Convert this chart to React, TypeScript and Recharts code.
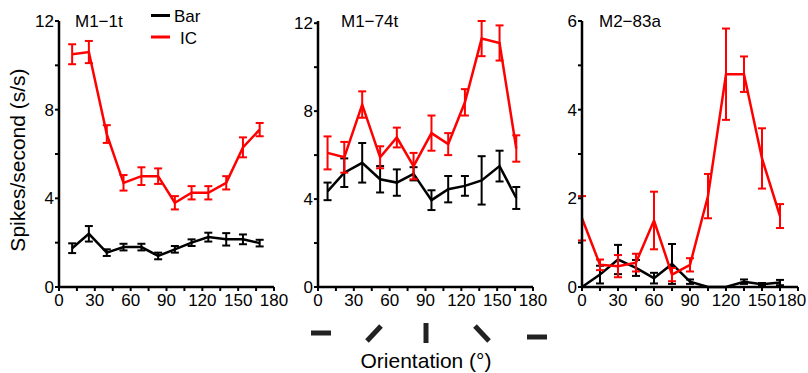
import { LineChart, Line, XAxis, YAxis, ErrorBar } from "recharts"

// orientation (deg) for each panel
const anglesA = [11, 25, 40, 54, 69, 83, 97, 111, 125, 140, 154, 168]
const anglesB = [8, 22, 37, 52, 66, 80, 95, 109, 123, 137, 152, 166]
const anglesC = [0, 15, 30, 45, 60, 75, 90, 105, 120, 135, 150, 165]

// M1-1t
const icA = [10.5, 10.6, 6.9, 4.7, 5.0, 5.0, 3.8, 4.25, 4.25, 4.7, 6.3, 7.1]
const icErrA = [0.45, 0.5, 0.4, 0.35, 0.4, 0.35, 0.3, 0.3, 0.3, 0.3, 0.45, 0.3]
const barA = [1.75, 2.4, 1.55, 1.8, 1.8, 1.4, 1.7, 2.0, 2.25, 2.15, 2.15, 1.98]
const barErrA = [0.22, 0.35, 0.15, 0.15, 0.15, 0.15, 0.15, 0.15, 0.2, 0.28, 0.22, 0.15]

// M1-74t
const icB = [6.1, 5.9, 8.3, 5.9, 6.8, 5.5, 7.0, 6.5, 8.4, 11.3, 11.1, 6.3]
const icErrB = [0.75, 0.7, 0.6, 0.5, 0.45, 0.6, 0.8, 0.5, 0.6, 0.8, 0.8, 0.6]
const barB = [4.35, 5.2, 5.65, 4.9, 4.75, 5.15, 3.95, 4.45, 4.6, 4.85, 5.5, 4.05]
const barErrB = [0.4, 0.65, 0.9, 0.6, 0.6, 0.3, 0.45, 0.6, 0.45, 1.1, 0.7, 0.5]

// M2-83a
const icC = [1.55, 0.5, 0.47, 0.55, 1.5, 0.28, 0.5, 2.05, 4.8, 4.8, 2.9, 1.6]
const icErrC = [0.5, 0.12, 0.25, 0.2, 0.65, 0.15, 0.15, 0.5, 1.03, 0.4, 0.68, 0.27]
const barC = [0, 0.28, 0.62, 0.43, 0.2, 0.52, 0.12, 0, 0, 0.12, 0.06, 0.1]
const barErrC = [null, 0.2, 0.33, 0.18, 0.12, 0.45, 0.05, null, null, 0.05, 0.03, 0.06]

const xTicks = [0, 15, 30, 45, 60, 75, 90, 105, 120, 135, 150, 165, 180]
const yTicks12 = [0, 2, 4, 6, 8, 10, 12]
const yTicks6 = [0, 1, 2, 3, 4, 5, 6]

const FONT = "'Liberation Sans', Arial, sans-serif"
const RED = "#ff0000"

function build(x: number[], ic: number[], icErr: (number | null)[], bar: number[], barErr: (number | null)[]) {
  return x.map((v, i) => ({ x: v, ic: ic[i], icErr: icErr[i], bar: bar[i], barErr: barErr[i] }))
}

// x tick: label every 30 deg, last label nudged in when it sits at the page edge
const makeXTick = (lastShift: number) => (props: any) => {
  const { x, y, payload } = props
  const v = payload.value
  const label = v % 30 === 0 ? String(v) : ""
  const dx = v === 180 ? lastShift : 0
  return (
    <text x={x + dx} y={y} dy="0.71em" textAnchor="middle" fill="#000" fontSize={17} fontFamily={FONT}>
      {label}
    </text>
  )
}

interface PanelProps {
  data: ReturnType<typeof build>
  left: number
  width: number
  marginLeft: number
  marginRight: number
  yMax: number
  yTicks: number[]
  labelEvery: number
  lastShift?: number
}

function Panel({ data, left, width, marginLeft, marginRight, yMax, yTicks, labelEvery, lastShift = 0 }: PanelProps) {
  const tick = { fill: "#000", fontSize: 17, fontFamily: FONT }
  return (
    <div style={{ position: "absolute", left, top: 0 }}>
      <LineChart
        width={width}
        height={320}
        data={data}
        margin={{ top: 21, right: marginRight, bottom: 3, left: marginLeft }}
      >
        <XAxis
          type="number"
          dataKey="x"
          domain={[0, 180]}
          ticks={xTicks}
          interval={0}
          height={30}
          tick={makeXTick(lastShift)}
          tickSize={4}
          tickMargin={3}
          axisLine={{ stroke: "#000", strokeWidth: 2.5 }}
          tickLine={{ stroke: "#000", strokeWidth: 2 }}
        />
        <YAxis
          type="number"
          domain={[0, yMax]}
          ticks={yTicks}
          interval={0}
          width={30}
          tick={tick}
          tickSize={4}
          tickMargin={1}
          tickFormatter={(v) => (v % labelEvery === 0 ? String(v) : "")}
          axisLine={{ stroke: "#000", strokeWidth: 2.5 }}
          tickLine={{ stroke: "#000", strokeWidth: 2 }}
        />
        <Line
          type="linear"
          dataKey="bar"
          stroke="#000"
          strokeWidth={2.5}
          dot={false}
          isAnimationActive={false}
        >
          <ErrorBar dataKey="barErr" width={4} stroke="#000" strokeWidth={2} direction="y" />
        </Line>
        <Line
          type="linear"
          dataKey="ic"
          stroke={RED}
          strokeWidth={2.5}
          dot={false}
          isAnimationActive={false}
        >
          <ErrorBar dataKey="icErr" width={4} stroke={RED} strokeWidth={2} direction="y" />
        </Line>
      </LineChart>
    </div>
  )
}

export default function App() {
  const dataA = build(anglesA, icA, icErrA, barA, barErrA)
  const dataB = build(anglesB, icB, icErrB, barB, barErrB)
  const dataC = build(anglesC, icC, icErrC, barC, barErrC)
  return (
    <div style={{ position: "absolute", left: 0, top: 0, width: 808, height: 373, background: "#fff", overflow: "hidden" }}>
      <Panel data={dataA} left={0} width={290} marginLeft={29} marginRight={16} yMax={12} yTicks={yTicks12} labelEvery={4} />
      <Panel data={dataB} left={260} width={290} marginLeft={28} marginRight={17} yMax={12} yTicks={yTicks12} labelEvery={4} />
      <Panel data={dataC} left={530} width={278} marginLeft={22} marginRight={10} yMax={6} yTicks={yTicks6} labelEvery={2} lastShift={-6} />
      <svg width={808} height={373} style={{ position: "absolute", left: 0, top: 0, pointerEvents: "none" }}>
        <g fontFamily={FONT} fill="#000">
          <text x={75} y={27} fontSize={17}>M1−1t</text>
          <text x={341} y={27} fontSize={17}>M1−74t</text>
          <text x={599} y={27} fontSize={17}>M2−83a</text>
          <line x1={151} y1={15.5} x2={170} y2={15.5} stroke="#000" strokeWidth={3} />
          <text x={174} y={22} fontSize={17}>Bar</text>
          <line x1={151} y1={37} x2={170} y2={37} stroke={RED} strokeWidth={3} />
          <text x={180} y={44} fontSize={17}>IC</text>
          <text transform="translate(25,160) rotate(-90)" textAnchor="middle" fontSize={21}>
            Spikes/second (s/s)
          </text>
          <text x={426} y={368} textAnchor="middle" fontSize={21}>Orientation (°)</text>
        </g>
        <g stroke="#222" strokeWidth={5}>
          <line x1={311} y1={333} x2={331} y2={333} />
          <line x1={367} y1={341} x2={381} y2={326} />
          <line x1={426} y1={323} x2={426} y2={343} />
          <line x1={475} y1={326} x2={489} y2={341} />
          <line x1={527} y1={337} x2={547} y2={337} />
        </g>
      </svg>
    </div>
  )
}
